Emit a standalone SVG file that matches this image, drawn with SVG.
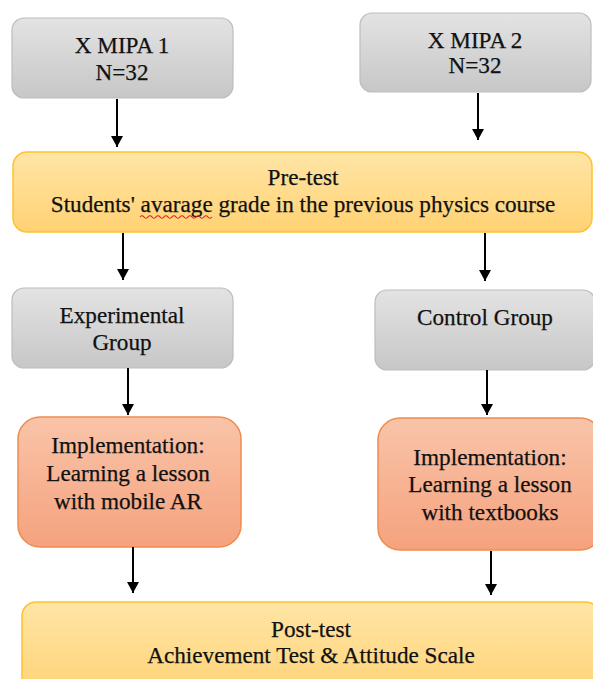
<svg xmlns="http://www.w3.org/2000/svg" width="593" height="679" viewBox="0 0 593 679">
<defs>
<linearGradient id="gGray" x1="0" y1="0" x2="0" y2="1"><stop offset="0" stop-color="#e3e3e3"/><stop offset="1" stop-color="#c7c7c7"/></linearGradient>
<linearGradient id="gYellow" x1="0" y1="0" x2="0" y2="1"><stop offset="0" stop-color="#ffe5a6"/><stop offset="1" stop-color="#ffd273"/></linearGradient>
<linearGradient id="gOrange" x1="0" y1="0" x2="0" y2="1"><stop offset="0" stop-color="#f9c4a9"/><stop offset="1" stop-color="#f5a27d"/></linearGradient>
<marker id="ah" viewBox="0 0 11 12" refX="11" refY="6" markerWidth="11" markerHeight="12" markerUnits="userSpaceOnUse" orient="auto"><path d="M0,0 L11,6 L0,12 z" fill="#000"/></marker>
<style>
.gray{fill:url(#gGray);stroke:#bdbdbd;stroke-width:1.2}
.yellow{fill:url(#gYellow);stroke:#ffc22e;stroke-width:1.5}
.orange{fill:url(#gOrange);stroke:#ef8c50;stroke-width:1.5}
text{font-family:"Liberation Serif","Times New Roman",serif;font-size:23.2px;fill:#111;stroke:#111;stroke-width:0.25;text-anchor:middle}
.conn line{stroke:#000;stroke-width:2;marker-end:url(#ah)}
</style>
</defs>
<rect width="593" height="679" fill="#fff"/>
<g id="mipa1"><rect class="gray" x="12" y="18" width="221" height="80" rx="12"/><text x="122" y="53">X MIPA 1</text><text x="122" y="80">N=32</text></g>
<g id="mipa2"><rect class="gray" x="360" y="13" width="231" height="79" rx="12"/><text x="475" y="48">X MIPA 2</text><text x="475" y="73">N=32</text></g>
<g id="pretest"><rect class="yellow" x="13" y="152" width="579" height="80" rx="14"/><text x="303" y="185">Pre-test</text><text x="303" y="212">Students' avarage grade in the previous physics course</text><path d="M140,217 q2,-2.5 4,0 t4,0 t4,0 t4,0 t4,0 t4,0 t4,0 t4,0 t4,0 t4,0 t4,0 t4,0 t4,0 t4,0 t4,0 t4,0 t4,0 t4,0" fill="none" stroke="#e0201c" stroke-width="1.2"/></g>
<g id="experimental"><rect class="gray" x="12" y="288" width="221" height="80" rx="12"/><text x="122" y="323">Experimental</text><text x="122" y="350">Group</text></g>
<g id="control"><rect class="gray" x="375" y="290" width="220" height="80" rx="12"/><text x="485" y="325">Control Group</text></g>
<g id="implAR"><rect class="orange" x="18" y="417" width="223" height="130" rx="22"/><text x="128" y="453">Implementation:</text><text x="128" y="481">Learning a lesson</text><text x="128" y="509">with mobile AR</text></g>
<g id="implText"><rect class="orange" x="378" y="418" width="224" height="132" rx="22"/><text x="490" y="465">Implementation:</text><text x="490" y="492">Learning a lesson</text><text x="490" y="520">with textbooks</text></g>
<g id="posttest"><rect class="yellow" x="22" y="602" width="578" height="100" rx="14"/><text x="311" y="637">Post-test</text><text x="311" y="663">Achievement Test &amp; Attitude Scale</text></g>
<g id="connectors" class="conn">
<line x1="117" y1="99" x2="117" y2="147"/>
<line x1="478" y1="93" x2="478" y2="140"/>
<line x1="123" y1="233" x2="123" y2="280"/>
<line x1="485" y1="233" x2="485" y2="281"/>
<line x1="128" y1="368" x2="128" y2="415"/>
<line x1="487" y1="370" x2="487" y2="415"/>
<line x1="133" y1="547" x2="133" y2="593"/>
<line x1="491" y1="551" x2="491" y2="595"/>
</g>
</svg>
